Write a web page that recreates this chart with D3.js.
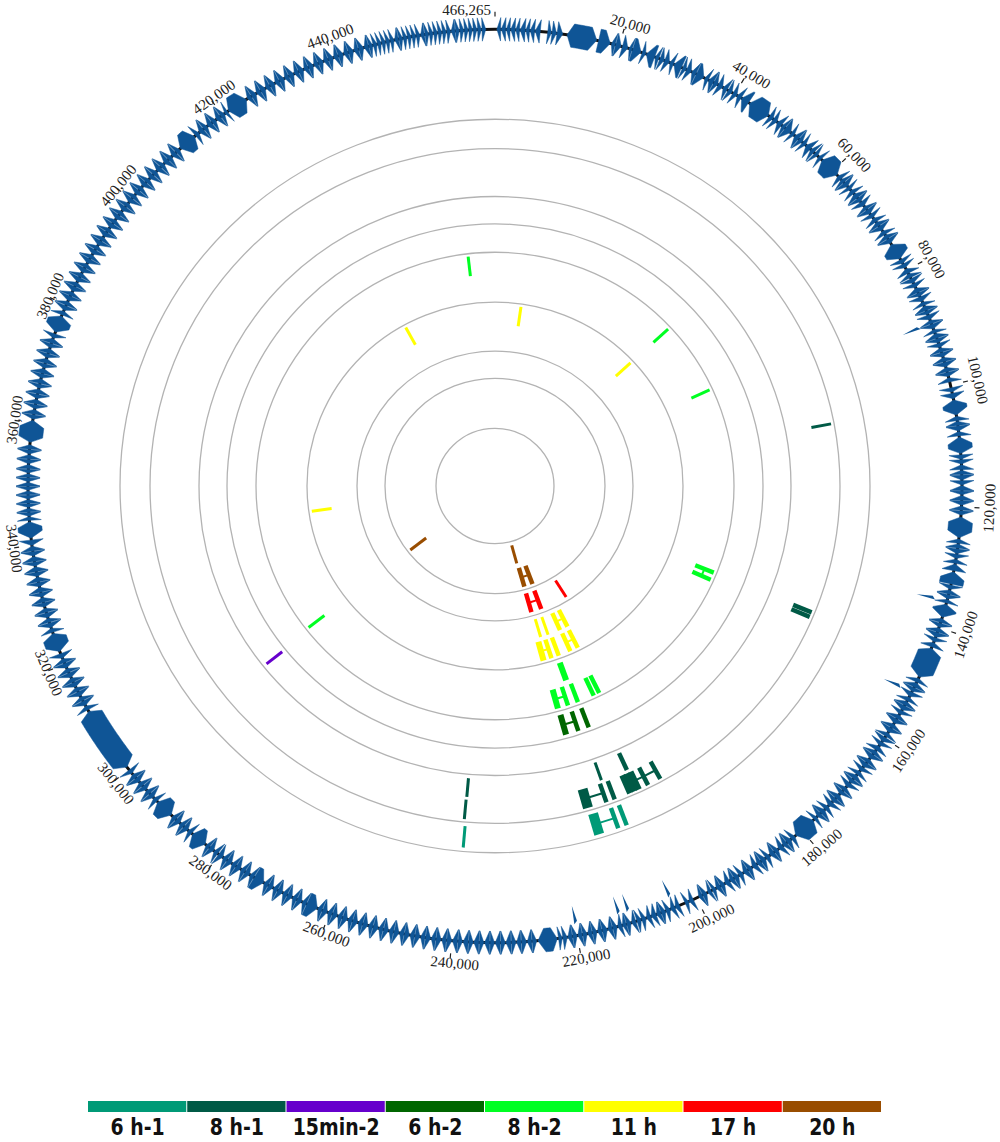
<!DOCTYPE html>
<html><head><meta charset="utf-8">
<script src="https://cdn.jsdelivr.net/npm/d3@7"></script>
<style>html,body{margin:0;padding:0;background:#fff;}svg{display:block;}</style>
</head><body>
<script>
// ---------------- DATA ----------------
const genomeLengthKb = 466.265;
const tickPositionsKb = [20,40,60,80,100,120,140,160,180,200,220,240,260,280,300,320,340,360,380,400,420,440,466.265];
const tickLabels = ["20,000","40,000","60,000","80,000","100,000","120,000","140,000","160,000","180,000","200,000","220,000","240,000","260,000","280,000","300,000","320,000","340,000","360,000","380,000","400,000","420,000","440,000","466,265"];

// legend / tracks, outermost first
const trackNames  = ["6 h-1","8 h-1","15min-2","6 h-2","8 h-2","11 h","17 h","20 h"];
const trackColors = ["#009a77","#005a46","#6600cc","#006600","#00ff22","#ffff00","#ff0000","#994d00"];

// genes on the outer ring: [startKb, endKb, strand]
const genes = [
[0.3,0.9,-1],[1.0,1.7,-1],[1.8,2.4,-1],[2.5,3.2,-1],[3.3,3.9,-1],[4.0,4.8,-1],[4.9,5.5,-1],[5.6,6.3,-1],[6.4,7.2,-1],
[8.4,9.0,1],[9.1,9.8,1],[9.9,10.8,1],[11.5,16.3,1],[16.6,18.5,1],[18.7,19.3,-1],[19.4,20.3,1],
[20.5,21.4,1],[21.6,22.1,-1],[22.2,23.6,1],[23.8,24.4,1],[24.5,25.9,-1],[26.0,26.6,-1],[26.8,27.5,1],[27.6,28.4,1],[28.5,29.1,-1],[29.2,30.5,-1],[30.7,31.3,1],[31.4,32.2,1],[32.3,33.0,-1],[33.1,34.4,1],[34.6,35.2,-1],[35.3,36.1,-1],[36.2,36.9,1],[37.0,37.8,1],[37.9,38.6,-1],[38.8,39.5,1],
[39.7,40.4,1],[40.5,41.2,-1],[41.3,42.6,-1],[42.8,46.4,-1],[46.6,47.3,1],[47.4,48.1,1],[48.2,49.0,-1],[49.1,49.7,-1],[49.8,50.9,1],[51.0,51.6,1],[51.7,52.5,-1],[52.6,53.3,1],[53.4,54.0,1],[54.1,55.0,-1],[55.1,55.8,-1],
[56.0,56.6,1],[56.8,57.4,-1],[57.6,61.0,1],[61.2,61.9,-1],[62.0,62.6,-1],[62.7,63.5,1],[63.6,64.2,1],[64.3,65.0,-1],[65.1,65.9,-1],[66.0,66.7,1],[66.8,67.6,1],[67.7,68.3,-1],[68.4,69.2,1],[69.3,70.0,1],[70.1,70.8,-1],[70.9,71.6,-1],[71.7,72.5,1],[72.6,73.3,-1],[73.4,74.1,-1],[74.2,75.0,1],[75.2,77.9,-1],[78.1,78.8,1],[78.9,79.6,1],
[79.8,80.6,-1],[80.7,81.4,-1],[81.6,82.4,1],[82.5,83.2,1],[83.3,84.1,-1],[84.2,84.8,1],[84.9,85.7,1],[85.8,86.4,-1],[86.5,87.3,-1],[87.4,88.0,1],[88.1,88.9,1],[89.0,89.6,-1],[89.7,90.5,1],[90.6,91.2,-1],[91.3,92.1,-1],[92.2,92.9,1],[93.0,93.7,1],[93.8,94.5,-1],[94.6,95.3,1],[95.4,96.1,-1],[96.2,97.0,1],[97.1,97.8,-1],[97.9,98.6,1],[98.8,99.5,-1],
[100.5,101.2,1],[101.4,102.3,1],[102.5,105.0,1],[105.2,105.9,-1],[106.0,106.7,-1],[106.8,107.6,1],[107.7,108.4,-1],[108.6,111.3,-1],[111.5,112.2,1],[112.3,113.0,1],[113.1,113.9,-1],[114.0,114.7,-1],[114.8,115.6,1],[115.7,116.4,1],[116.5,117.3,-1],[117.4,118.0,1],[118.1,118.9,-1],[119.0,119.7,1],[119.8,120.5,-1],[120.6,121.3,1],
[121.6,125.0,1],[125.2,125.9,-1],[126.0,126.7,-1],[126.8,127.6,1],[127.7,128.4,1],[128.5,129.2,-1],[129.3,130.4,-1],[130.6,132.6,-1],[132.8,133.5,1],[133.6,134.3,-1],[134.4,135.1,1],[135.2,135.8,-1],[136.0,138.2,1],[138.4,139.1,-1],[139.2,139.9,1],
[140.0,140.7,-1],[140.8,141.6,1],[141.7,142.4,1],[142.5,143.3,-1],[143.5,148.6,1],[148.8,149.5,-1],[149.6,150.4,-1],[150.5,151.2,1],[151.3,152.1,1],[152.2,152.9,-1],[153.0,153.7,-1],[153.8,154.6,1],[154.7,155.4,1],[155.5,156.2,-1],[156.3,157.1,1],[157.2,157.9,-1],[158.0,158.8,1],[158.9,159.6,-1],
[159.8,160.6,1],[160.7,161.4,1],[161.5,162.3,-1],[162.4,163.1,-1],[163.2,164.0,1],[164.1,164.8,-1],[164.9,165.7,1],[165.8,166.5,1],[166.6,167.3,-1],[167.4,168.2,-1],[168.3,169.0,1],[169.1,169.9,1],[170.0,170.7,-1],[170.8,171.5,1],[171.6,172.4,-1],[172.5,173.2,1],[173.3,174.1,1],[174.2,174.9,-1],[175.0,175.8,-1],[175.9,176.6,1],[176.7,177.3,-1],[177.5,181.2,1],
[181.4,182.1,-1],[182.2,183.0,-1],[183.1,183.8,1],[183.9,184.7,1],[184.8,185.5,-1],[185.6,186.4,1],[186.5,187.2,-1],[187.3,188.1,-1],[188.2,188.9,1],[189.0,189.8,1],[189.9,190.6,-1],[190.7,191.5,1],[191.6,192.3,-1],[192.4,193.2,-1],[193.3,194.0,1],[194.1,194.9,1],[195.0,195.7,-1],[195.8,196.5,1],[196.6,197.2,-1],[197.4,198.0,1],[198.2,198.9,-1],[199.0,199.6,1],
[200.6,201.3,1],[201.4,202.0,-1],[203.0,203.7,1],[203.8,204.5,1],[204.6,205.3,-1],[205.4,206.1,-1],[206.2,206.9,1],[207.0,207.8,1],[207.9,208.6,1],[208.7,209.4,-1],[209.5,210.2,-1],[210.4,211.1,1],[211.2,211.9,-1],[212.0,212.6,1],[212.7,213.4,1],[213.5,214.2,-1],[214.3,215.0,1],[215.1,215.9,-1],[216.0,216.7,1],[216.8,217.5,-1],[217.6,218.3,1],[218.4,219.1,-1],[219.2,219.9,1],
[220.0,220.7,-1],[220.8,221.5,1],[221.6,222.3,-1],[222.4,223.0,-1],[223.2,226.3,1],[226.5,227.2,-1],[227.3,228.0,1],[228.1,228.9,-1],[229.0,229.7,1],[229.8,230.5,-1],[230.6,231.4,1],[231.5,232.2,-1],[232.3,233.1,1],[233.2,233.9,-1],[234.0,234.8,1],[234.9,235.6,-1],[235.7,236.5,1],[236.6,237.3,-1],[237.4,238.2,1],[238.3,239.0,-1],[239.1,239.9,1],
[240.0,240.8,-1],[240.9,241.6,1],[241.7,242.5,-1],[242.6,243.3,1],[243.4,244.2,-1],[244.3,245.0,1],[245.1,245.9,-1],[246.0,246.7,1],[246.8,247.6,-1],[247.7,248.4,1],[248.5,249.3,-1],[249.4,250.1,1],[250.2,251.0,-1],[251.1,251.8,1],[251.9,252.7,-1],[252.8,253.5,1],[253.6,254.4,-1],[254.5,255.2,1],[255.3,256.1,-1],[256.2,256.9,1],[257.0,257.8,-1],[257.9,258.6,1],[258.7,259.5,-1],
[259.6,260.3,1],[260.4,261.2,-1],[261.3,262.0,1],[262.1,263.9,-1],[264.0,264.7,1],[264.8,265.6,-1],[265.7,266.4,1],[266.5,267.3,-1],[267.4,268.1,1],[268.2,269.0,-1],[269.1,269.8,1],[269.9,270.7,-1],[270.8,271.5,1],[271.6,273.3,-1],[273.4,274.1,1],[274.2,275.0,-1],[275.1,275.8,1],[275.9,276.7,-1],[276.8,277.5,1],[277.6,278.4,-1],[278.5,279.2,1],[279.3,280.1,-1],
[280.3,281.0,1],[281.1,281.9,-1],[282.0,282.6,1],[282.8,285.4,-1],[285.6,286.3,1],[286.4,287.2,-1],[287.3,288.0,1],[288.1,288.9,-1],[289.0,289.7,1],[290.0,293.0,-1],[293.2,293.9,1],[294.0,294.8,-1],[294.9,295.6,1],[295.7,296.5,-1],[296.6,297.3,1],[297.4,298.2,-1],[298.3,299.0,1],[299.2,299.9,-1],[300.5,311.4,-1],
[311.7,312.4,1],[312.5,313.3,-1],[313.4,314.1,1],[314.2,315.0,-1],[315.1,315.8,1],[315.9,316.7,-1],[316.8,317.5,1],[317.6,318.4,-1],[318.5,319.2,1],[319.3,320.1,-1],[320.2,320.9,1],[321.0,321.8,-1],[322.2,325.3,-1],[325.5,326.2,1],[326.3,327.1,-1],[327.2,327.9,1],[328.0,328.8,-1],[328.9,329.6,1],
[329.8,330.5,-1],[330.6,331.4,1],[331.5,332.2,-1],[332.3,333.1,1],[333.2,333.9,-1],[334.0,334.8,1],[334.9,335.6,-1],[335.7,336.5,1],[336.6,337.3,-1],[337.4,338.2,1],[338.3,339.0,-1],[339.1,339.9,1],[340.0,340.9,-1],[341.2,343.9,-1],[344.1,344.7,1],[344.8,345.4,-1],[345.5,346.1,1],[346.2,346.8,-1],[346.9,347.5,1],[347.6,348.2,-1],[348.3,348.9,1],[349.0,349.6,-1],[349.7,350.3,1],[350.4,351.0,-1],
[351.1,351.7,1],[351.8,352.4,-1],[352.5,353.2,1],[353.3,354.0,-1],[354.1,354.8,1],[354.9,355.6,-1],[355.7,356.4,1],[356.8,360.4,1],[360.6,361.3,-1],[361.4,362.2,1],[362.3,363.0,-1],[363.1,363.9,1],[364.0,364.7,-1],[364.8,365.6,1],[365.7,366.4,-1],[366.5,367.3,1],[367.4,368.1,-1],[368.2,369.0,1],[369.1,369.8,-1],[369.9,370.7,1],[370.8,371.5,-1],[371.6,372.4,1],[372.5,373.2,-1],[373.3,374.1,1],[374.2,374.9,-1],[375.2,378.0,-1],[378.2,378.9,1],[379.0,379.8,-1],
[379.9,380.6,1],[380.7,381.5,-1],[381.6,382.3,1],[382.4,383.2,-1],[383.3,384.0,1],[384.1,384.9,-1],[385.0,385.7,1],[385.8,386.6,-1],[386.7,387.4,1],[387.5,388.3,-1],[388.4,389.1,1],[389.2,390.0,-1],[390.1,390.8,1],[390.9,391.7,-1],[391.8,392.5,1],[392.6,393.4,-1],[393.5,394.2,1],[394.3,395.1,-1],[395.2,395.9,1],[396.0,396.8,-1],[396.9,397.6,1],[397.7,398.5,-1],[398.6,399.3,1],
[399.4,400.2,-1],[400.3,401.0,1],[401.1,401.9,-1],[402.0,402.7,1],[402.8,403.6,-1],[403.7,404.4,1],[404.5,405.3,-1],[405.4,406.1,1],[406.2,407.0,-1],[407.1,407.8,1],[407.9,408.7,-1],[408.8,409.5,1],[409.6,410.4,-1],[410.5,411.2,1],[411.4,414.4,-1],[414.6,415.3,1],[415.4,416.2,-1],[416.3,417.0,1],[417.1,417.9,-1],[418.0,418.7,1],[418.8,419.6,-1],[419.7,420.4,1],[420.5,421.0,-1],[421.2,424.6,1],
[424.8,425.5,-1],[425.6,426.4,1],[426.5,427.2,-1],[427.3,428.1,1],[428.2,428.9,-1],[429.0,429.8,1],[429.9,430.6,-1],[430.7,431.5,1],[431.6,432.3,-1],[432.4,433.2,1],[433.3,434.0,-1],[434.1,434.9,1],[435.0,435.7,-1],[435.8,436.6,1],[436.7,437.4,-1],[437.5,438.3,1],[438.4,439.1,-1],[439.2,440.0,1],[440.1,440.8,-1],[440.9,441.7,1],[441.8,442.5,-1],[442.6,443.4,1],[443.5,444.2,-1],[444.3,445.1,1],[445.2,445.9,-1],
[446.0,446.6,1],[446.7,447.3,1],[447.4,448.0,1],[448.1,448.7,1],[448.8,449.4,1],[449.5,450.1,1],[450.2,450.8,-1],[450.9,451.5,1],[451.6,452.2,1],[452.3,452.9,1],[453.0,453.6,1],[453.7,454.3,1],[454.4,455.0,-1],[455.1,455.7,1],[455.8,456.4,1],[456.5,457.1,1],[457.2,457.8,1],[457.9,458.5,1],[458.6,459.2,1],[459.3,459.9,-1],[460.0,460.6,1],[460.7,461.3,1],[461.4,462.0,1],[462.1,462.7,1],[462.8,463.4,1],[463.5,464.1,1],[464.2,464.8,1]
];

// small secondary features just inside the gene ring: [positionKb]
const innerFeatures = [89.7, 135.6, 151.4, 204.0, 211.2, 212.8, 220.0];

// marks in the inner tracks: [trackIndex, positionKb, row (0 inner / 1 outer), size class]
const marks = [
[7,213.2,0,1],[7,212.5,1,2],[7,206.6,1,2],[7,300.9,1,1],
[6,212.7,1,2],[6,207.0,1,2],[6,191.6,1,1],
[5,211.8,0,1],[5,208.2,0,1],[5,202.3,0,2],[5,198.5,0,2],
[5,213.4,1,3],[5,210.1,1,2],[5,207.0,1,2],[5,202.0,1,2],[5,198.7,1,2],
[5,10.45,1,1],[5,428.9,1,1],[5,61.0,1,1],[5,339.3,1,1],
[4,207.6,0,3],[4,213.1,1,3],[4,209.8,1,2],[4,206.5,1,2],[4,201.1,1,2],[4,199.2,1,2],
[4,457.8,1,1],[4,61.1,1,1],[4,84.7,1,1],[4,145.1,1,2],[4,147.6,1,2],[4,300.7,1,1],
[3,212.9,1,3],[3,209.3,1,2],[3,206.2,1,2],
[2,299.8,1,1],
[1,102.7,1,1],[1,145.3,1,2],[1,146.4,1,2],[1,239.7,0,1],[1,239.8,1,1],
[1,207.9,0,1],[1,201.5,0,2],
[1,212.7,1,4],[1,208.5,1,2],[1,206.6,1,2],
[1,203.0,1,3],[1,201.9,1,3],[1,200.9,1,3],[1,198.7,1,2],[1,195.7,1,2],
[0,239.5,1,1],[0,212.0,1,4],[0,208.0,1,2],[0,206.2,1,2]
];
// connectors between two marks: [trackIndex, fromKb, toKb, row]
const links = [
[7,212.5,206.6,1],[6,212.7,207.0,1],[5,202.3,198.5,0],[5,213.4,210.1,1],[5,202.0,198.7,1],
[4,213.1,209.8,1],[4,145.1,147.6,1],[3,212.9,209.3,1],
[1,212.7,208.5,1],[1,200.9,198.7,1],[1,198.7,195.7,1],[0,212.0,208.0,1]
];

// ---------------- LAYOUT ----------------
const W = 1000, H = 1142;
const cx = 495, cy = 486, sy = 0.978;
const ringRadii = [375, 345, 296, 268, 239, 188, 138, 110, 59];
const geneR0 = 455, geneR1 = 479, geneRm = 467;

const svg = d3.select("body").append("svg").attr("width", W).attr("height", H);
const angle = d3.scaleLinear().domain([0, genomeLengthKb]).range([0, 2 * Math.PI]);
const P = (r, a, ox = 0) => [cx + ox + r * Math.sin(a), cy - r * Math.cos(a) * sy];

svg.append("g").selectAll("ellipse").data(ringRadii).join("ellipse")
  .attr("cx", cx).attr("cy", cy).attr("rx", d => d).attr("ry", d => d * sy)
  .attr("fill", "none").attr("stroke", "#b3b3b3").attr("stroke-width", 1.3);

svg.append("ellipse").attr("cx", cx).attr("cy", cy).attr("rx", geneRm).attr("ry", geneRm * sy)
  .attr("fill", "none").attr("stroke", "#111").attr("stroke-width", 3);

function arcPts(p0, p1, r) {
  const n = Math.max(1, Math.ceil(Math.abs(p1 - p0) / 0.3));
  const pts = [];
  for (let i = 0; i <= n; i++) pts.push(P(r, angle(p0 + (p1 - p0) * i / n)));
  return pts;
}
function genePath(g) {
  const [s, e, st] = g;
  const len = e - s;
  const head = Math.min(len, 1.1);
  const tail = len > 2 ? 0.9 : 0;
  const front = st > 0 ? e : s, back = st > 0 ? s : e, d = st > 0 ? 1 : -1;
  const hb = front - d * head, tb = back + d * tail;
  let pts = [P(geneRm, angle(front))];
  pts = pts.concat(arcPts(hb, tb, geneR1));
  if (tail > 0) pts.push(P(geneRm, angle(back)));
  else { pts.push(P(geneR1, angle(back))); pts.push(P(geneR0, angle(back))); }
  pts = pts.concat(arcPts(tb, hb, geneR0));
  return "M" + pts.map(p => p[0].toFixed(2) + "," + p[1].toFixed(2)).join("L") + "Z";
}
svg.append("g").selectAll("path").data(genes).join("path")
  .attr("d", genePath).attr("fill", "#0f5596")
  .attr("stroke", "#0f5596").attr("stroke-width", 0.5);

svg.append("g").selectAll("path").data(innerFeatures).join("path")
  .attr("d", p => {
    const a = angle(p), da = 2.4 / 445;
    const pts = [P(436, a), P(452, a - da), P(455, a + da * 0.3)];
    return "M" + pts.map(q => q.join(",")).join("L") + "Z";
  })
  .attr("fill", "#0f5596");

// tick marks and labels
const tg = svg.append("g");
tg.selectAll("line").data(tickPositionsKb).join("line")
  .each(function (p) {
    const a = angle(p), q0 = P(480, a), q1 = P(485, a);
    d3.select(this).attr("x1", q0[0]).attr("y1", q0[1]).attr("x2", q1[0]).attr("y2", q1[1]);
  })
  .attr("stroke", "#222").attr("stroke-width", 1.2);
tg.selectAll("text").data(tickPositionsKb).join("text")
  .each(function (p, i) {
    const a = angle(p);
    const deg = a * 180 / Math.PI;
    const last = i === tickPositionsKb.length - 1;
    const q = last ? P(488, a - 0.058) : P(490, a, 5);
    let rot = (deg > 90 && deg < 270) ? deg - 180 : (deg >= 270 ? deg - 360 : deg);
    if (last) rot = 0;
    d3.select(this).attr("transform", `translate(${q[0]},${q[1]}) rotate(${rot})`);
  })
  .attr("text-anchor", "middle").attr("dominant-baseline", "central")
  .attr("font-family", "'Liberation Serif','Times New Roman',serif").attr("font-size", 15)
  .attr("fill", "#222").text((p, i) => tickLabels[i]);

// inner track marks
const trackOuter = ringRadii.slice(0, 8), trackInner = ringRadii.slice(1, 9);
function rowRange(t, row) {
  const ro = trackOuter[t], ri = trackInner[t];
  if (ro - ri < 35) return [ri + 4, ro - 4];
  return row === 0 ? [ri + 4, ri + 23] : [ro - 23, ro - 3];
}
const sizePx = [0, 3, 4.5, 6, 10];
const mg = svg.append("g");
mg.selectAll("line.link").data(links).join("line").attr("class", "link")
  .each(function (l) {
    const [t, p0, p1, row] = l;
    const rr = rowRange(t, row), r = (rr[0] + rr[1]) / 2;
    const q0 = P(r, angle(p0)), q1 = P(r, angle(p1));
    d3.select(this).attr("x1", q0[0]).attr("y1", q0[1]).attr("x2", q1[0]).attr("y2", q1[1])
      .attr("stroke", trackColors[t]);
  })
  .attr("stroke-width", 2);
mg.selectAll("line.mark").data(marks).join("line").attr("class", "mark")
  .each(function (m) {
    const [t, p, row, sz] = m;
    const rr = rowRange(t, row), a = angle(p);
    const q0 = P(rr[0], a), q1 = P(rr[1], a);
    d3.select(this).attr("x1", q0[0]).attr("y1", q0[1]).attr("x2", q1[0]).attr("y2", q1[1])
      .attr("stroke", trackColors[t]).attr("stroke-width", sizePx[sz]);
  });

// legend
const lx0 = 88, lx1 = 882, lw = (lx1 - lx0) / trackNames.length;
const lg = svg.append("g");
lg.selectAll("rect").data(trackNames).join("rect")
  .attr("x", (d, i) => lx0 + i * lw).attr("y", 1101).attr("width", lw - 1).attr("height", 11)
  .attr("fill", (d, i) => trackColors[i]);
lg.selectAll("text").data(trackNames).join("text")
  .attr("transform", (d, i) => `translate(${lx0 + (i + 0.5) * lw},1135) scale(1,1.1)`)
  .attr("text-anchor", "middle")
  .attr("font-family", "'Liberation Sans Narrow','DejaVu Sans Condensed','Arial Narrow',sans-serif")
  .attr("font-weight", "bold").attr("font-size", 21).attr("fill", "#111")
  .text(d => d);
</script>
</body></html>
